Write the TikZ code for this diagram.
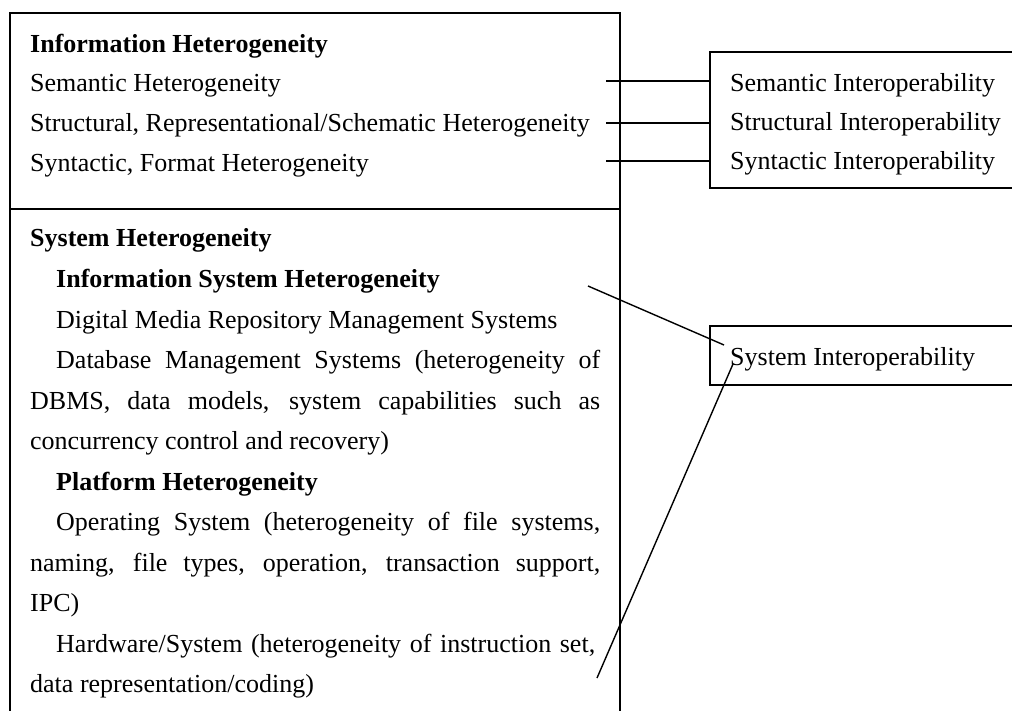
\documentclass[tikz,border=0pt]{standalone}
\usepackage{fontspec}
\setmainfont{Liberation Serif}
\begin{document}
\begin{tikzpicture}[x=1pt,y=1pt,
  frame/.style={line width=1.8pt, line cap=rect},
  link/.style={line width=1.4pt},
  txt/.style={anchor=base west, inner sep=0pt, font=\fontsize{26}{30}\selectfont},
  head/.style={txt, font=\fontsize{26}{30}\selectfont\bfseries}]
\useasboundingbox (0,0) rectangle (1012,-711);

% left frame, open at the bottom, split into two sections
\draw[frame] (10,-720) -- (10,-13) -- (620,-13) -- (620,-720);
\draw[frame] (10,-209) -- (620,-209);

% right frames, open at the right
\draw[frame] (1020,-52) -- (710,-52) -- (710,-188) -- (1020,-188);
\draw[frame] (1020,-326) -- (710,-326) -- (710,-385) -- (1020,-385);

% information heterogeneity
\node[head] (infohet) at (30,-53) {Information Heterogeneity};
\node[txt] (semhet) at (30,-92) {Semantic Heterogeneity};
\node[txt] (strhet) at (30,-132) {Structural, Representational/Schematic Heterogeneity};
\node[txt] (synhet) at (30,-172) {Syntactic, Format Heterogeneity};

% interoperability levels
\node[txt] (semint) at (730,-92) {Semantic Interoperability};
\node[txt] (strint) at (730,-131) {Structural Interoperability};
\node[txt] (synint) at (730,-170) {Syntactic Interoperability};
\node[txt] (sysint) at (730,-365) {System Interoperability};

% system heterogeneity
\node[head] (syshet) at (30,-247) {System Heterogeneity};
\node[head] (ishet) at (56,-287.5) {Information System Heterogeneity};
\node[txt] (dmrms) at (56,-328) {Digital Media Repository Management Systems};
\node[txt] (dbms1) at (56,-368.5) {\makebox[544pt][s]{Database Management Systems (heterogeneity of}};
\node[txt] (dbms2) at (30,-409) {\makebox[570pt][s]{DBMS, data models, system capabilities such as}};
\node[txt] (dbms3) at (30,-449.5) {concurrency control and recovery)};
\node[head] (plathet) at (56,-490) {Platform Heterogeneity};
\node[txt] (os1) at (56,-530.5) {\makebox[544pt][s]{Operating System (heterogeneity of file systems,}};
\node[txt] (os2) at (30,-571) {\makebox[570pt][s]{naming, file types, operation, transaction support,}};
\node[txt] (os3) at (30,-611.5) {IPC)};
\node[txt] (hw1) at (56,-652) {\makebox[539pt][s]{Hardware/System (heterogeneity of instruction set,}};
\node[txt] (hw2) at (30,-692.5) {data representation/coding)};

% connector end points
\coordinate (semL) at (606,-81);
\coordinate (semR) at (711,-81);
\coordinate (strL) at (606,-123);
\coordinate (strR) at (711,-123);
\coordinate (synL) at (606,-161);
\coordinate (synR) at (711,-161);
\coordinate (isA) at (588,-286);
\coordinate (isB) at (724,-345);
\coordinate (plA) at (733,-364);
\coordinate (plB) at (597,-678);

\draw[link] (semL) -- (semR);
\draw[link] (strL) -- (strR);
\draw[link] (synL) -- (synR);
\draw[link] (isA) -- (isB);
\draw[link] (plA) -- (plB);
\end{tikzpicture}
\end{document}
